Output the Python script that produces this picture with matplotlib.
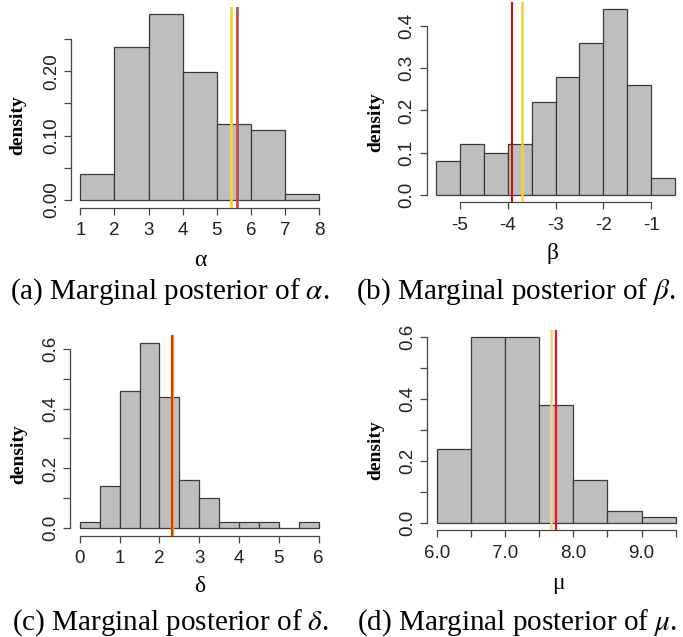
import matplotlib
matplotlib.use('Agg')
import matplotlib.pyplot as plt
import numpy as np

# histogram data (density per bin)
alpha_edges = [1, 2, 3, 4, 5, 6, 7, 8]
alpha_dens = [0.04, 0.237, 0.288, 0.198, 0.118, 0.109, 0.01]
alpha_lines = [5.40, 5.59]

beta_edges = [-5.5, -5.0, -4.5, -4.0, -3.5, -3.0, -2.5, -2.0, -1.5, -1.0, -0.5]
beta_dens = [0.08, 0.12, 0.10, 0.12, 0.22, 0.28, 0.36, 0.44, 0.26, 0.04]
beta_lines = [-3.91, -3.70]

delta_edges = [0, 0.5, 1, 1.5, 2, 2.5, 3, 3.5, 4, 4.5, 5, 5.5, 6]
delta_dens = [0.02, 0.14, 0.46, 0.62, 0.44, 0.16, 0.10, 0.02, 0.02, 0.02, 0.0, 0.02]
delta_lines = [2.32, 2.32]

mu_edges = [6.0, 6.5, 7.0, 7.5, 8.0, 8.5, 9.0, 9.5]
mu_dens = [0.24, 0.60, 0.60, 0.38, 0.14, 0.04, 0.02]
mu_lines = [7.68, 7.75]

plt.rcParams['mathtext.fontset'] = 'stix'

W, H = 683, 637
fig = plt.figure(figsize=(W / 100, H / 100), dpi=100)

AXC = '#444444'


def rect(left, top, w=258, h=200.5):
    return [left / W, 1 - (top + h) / H, w / W, h / H]


def r_hist(box, edges, dens, yticks, ylabs, xticks, xlabs, lines, lcols, lws):
    ax = fig.add_axes(rect(*box))
    edges = np.array(edges, dtype=float)
    ax.bar(edges[:-1], dens, width=np.diff(edges), align='edge',
           color='#bebebe', edgecolor='#3a3a3a', linewidth=0.9, zorder=2)
    # R style 4% padding
    xr = edges[-1] - edges[0]
    ax.set_xlim(edges[0] - 0.04 * xr, edges[-1] + 0.04 * xr)
    ym = max(dens)
    ax.set_ylim(-0.04 * ym, 1.04 * ym)
    for v, c, lw in zip(lines, lcols, lws):
        ax.axvline(v, color=c, linewidth=lw, zorder=3)

    for s in ['top', 'right']:
        ax.spines[s].set_visible(False)
    for s in ['left', 'bottom']:
        ax.spines[s].set_color(AXC)
        ax.spines[s].set_linewidth(0.9)
    ax.spines['left'].set_bounds(yticks[0], yticks[-1])
    ax.spines['bottom'].set_bounds(xticks[0], xticks[-1])

    ax.set_yticks(yticks)
    ax.set_yticklabels(ylabs, rotation=90, va='center',
                       fontfamily='Liberation Sans', fontsize=13.5, color='#222222')
    ax.set_xticks(xticks)
    ax.set_xticklabels(xlabs, fontfamily='Liberation Sans', fontsize=13.5, color='#222222')
    ax.tick_params(axis='both', length=4.8, width=0.9, color=AXC)
    ax.tick_params(axis='x', pad=5.5)
    ax.tick_params(axis='y', pad=3)
    ax.patch.set_alpha(0)
    return ax


# (a) alpha
r_hist((70.8, 7.0), alpha_edges, alpha_dens,
       [0, 0.05, 0.10, 0.15, 0.20, 0.25], ['0.00', '', '0.10', '', '0.20', ''],
       [1, 2, 3, 4, 5, 6, 7, 8], ['1', '2', '3', '4', '5', '6', '7', '8'],
       alpha_lines, ['#f9d236', '#c0504d'], [2.0, 2.0])

# (b) beta
r_hist((426.5, 1.7), beta_edges, beta_dens,
       [0, 0.1, 0.2, 0.3, 0.4], ['0.0', '0.1', '0.2', '0.3', '0.4'],
       [-5, -4, -3, -2, -1], ['-5', '-4', '-3', '-2', '-1'],
       beta_lines, ['#c81010', '#f8d030'], [1.5, 1.8])

# (c) delta
r_hist((70.3, 335.2), delta_edges, delta_dens,
       [0, 0.1, 0.2, 0.3, 0.4, 0.5, 0.6], ['0.0', '', '0.2', '', '0.4', '', '0.6'],
       [0, 1, 2, 3, 4, 5, 6], ['0', '1', '2', '3', '4', '5', '6'],
       delta_lines, ['#f5a020', '#e02a00'], [2.4, 1.3])

# (d) mu
r_hist((427.2, 329.9), mu_edges, mu_dens,
       [0, 0.1, 0.2, 0.3, 0.4, 0.5, 0.6], ['0.0', '', '0.2', '', '0.4', '', '0.6'],
       [6.0, 6.5, 7.0, 7.5, 8.0, 8.5, 9.0, 9.5], ['6.0', '', '7.0', '', '8.0', '', '9.0', ''],
       mu_lines, ['#f0d48a', '#e8141c'], [1.8, 1.6])


def ftext(x, y, s, **kw):
    fig.text(x / W, 1 - y / H, s, **kw)


# y labels "density"
for x, y in [(17.5, 125), (375.7, 122), (18.3, 454), (375.7, 450)]:
    ftext(x, y, 'density', rotation=90, ha='center', va='center',
          fontfamily='Liberation Serif', fontweight='bold', fontsize=14)

# x labels (greek)
for x, y, s in [(200, 260, 'α'), (553, 254, 'β'), (200, 587, 'δ'), (558, 583, 'μ')]:
    ftext(x, y, s, ha='center', va='center', fontfamily='Liberation Serif', fontsize=17)

# captions
caps = [(170, 291.5, r'(a) Marginal posterior of $\alpha$.'),
        (516, 291.5, r'(b) Marginal posterior of $\beta$.'),
        (170, 622.5, r'(c) Marginal posterior of $\delta$.'),
        (517.5, 622.5, r'(d) Marginal posterior of $\mu$.')]
for x, y, s in caps:
    ftext(x, y, s, ha='center', va='center', fontfamily='Liberation Serif', fontsize=21)

plt.savefig('out.png', dpi=100)
